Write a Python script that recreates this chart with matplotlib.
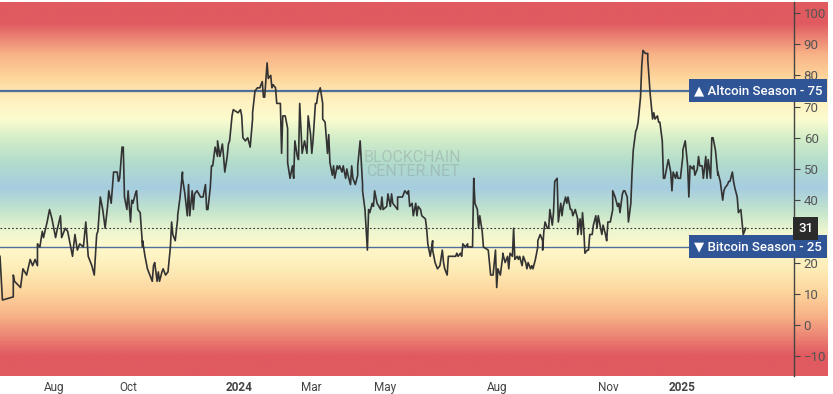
import numpy as np
import matplotlib
matplotlib.use("Agg")
import matplotlib.pyplot as plt
import matplotlib.transforms as mtransforms
from matplotlib.colors import LinearSegmentedColormap

plt.rcParams['font.family'] = ['Roboto', 'DejaVu Sans']

# Altcoin season index, days counted from START
START = np.datetime64('2023-06-17')
END_DAY = 657
day_offset = [
    0, 2, 11, 11, 12, 17, 19, 22, 25, 27, 29, 31, 31, 33, 35, 36, 39, 41, 43, 46,
    47, 50, 51, 54, 56, 60, 62, 64, 66, 69, 71, 73, 76, 78, 80, 81, 83, 85, 87, 89,
    90, 92, 94, 97, 98, 99, 101, 102, 103, 105, 106, 108, 109, 110, 112, 113, 114, 116, 118, 118,
    120, 122, 124, 126, 127, 128, 130, 131, 132, 134, 135, 137, 139, 141, 142, 143, 145, 147, 147, 149,
    151, 151, 153, 155, 156, 157, 159, 160, 161, 163, 166, 168, 170, 171, 172, 174, 175, 176, 178, 180,
    180, 182, 184, 185, 186, 188, 189, 190, 192, 193, 197, 199, 200, 201, 203, 205, 207, 209, 209, 211,
    213, 215, 217, 218, 219, 221, 222, 224, 225, 226, 228, 229, 232, 233, 234, 236, 238, 238, 240, 242,
    243, 244, 246, 247, 248, 250, 251, 252, 254, 255, 257, 258, 259, 261, 262, 263, 265, 267, 267, 269,
    271, 272, 273, 275, 276, 277, 279, 280, 281, 283, 284, 286, 287, 288, 290, 291, 292, 294, 296, 296,
    298, 300, 300, 302, 304, 305, 306, 308, 309, 310, 312, 315, 316, 317, 320, 321, 323, 324, 325, 329,
    329, 333, 334, 335, 337, 338, 339, 341, 342, 344, 345, 346, 348, 349, 352, 353, 354, 356, 358, 358,
    360, 362, 364, 366, 367, 368, 370, 371, 374, 377, 378, 379, 381, 382, 383, 385, 387, 387, 391, 392,
    393, 395, 396, 397, 399, 400, 404, 406, 408, 410, 411, 412, 414, 416, 416, 418, 420, 421, 422, 424,
    425, 426, 428, 429, 430, 432, 433, 435, 436, 437, 439, 440, 441, 443, 445, 445, 447, 449, 449, 450,
    451, 453, 454, 455, 457, 458, 459, 461, 462, 464, 465, 466, 468, 469, 470, 472, 473, 474, 476, 478,
    478, 480, 481, 482, 483, 484, 486, 487, 488, 490, 491, 493, 494, 495, 497, 498, 499, 501, 502, 503,
    505, 507, 507, 509, 511, 512, 513, 515, 516, 517, 519, 520, 522, 523, 524, 526, 527, 528, 530, 531,
    532, 534, 536, 536, 538, 540, 541, 542, 544, 545, 546, 548, 549, 550, 552, 553, 555, 556, 557, 559,
    560, 561, 563, 565, 565, 567, 569, 570, 571, 573, 574, 575, 577, 578, 579, 581, 582, 584, 585, 586,
    588, 589, 590, 592, 594, 594, 596, 598, 599, 600, 602, 603, 604, 606, 607, 608, 610, 611, 613, 614,
    615, 617,
]
alt_index = [
    22, 8, 9, 16, 14, 12, 18, 16, 21, 19, 21, 19, 26, 25, 30, 28, 33, 37, 34, 28,
    30, 35, 28, 31, 30, 22, 29, 24, 26, 25, 33, 22, 19, 16, 29, 30, 41, 37, 31, 38,
    43, 39, 49, 49, 46, 47, 57, 57, 41, 37, 43, 33, 40, 39, 42, 43, 37, 36, 25, 27,
    22, 18, 16, 14, 19, 20, 14, 17, 14, 17, 18, 16, 17, 25, 33, 29, 27, 34, 35, 41,
    49, 47, 42, 35, 45, 35, 43, 37, 42, 43, 41, 41, 45, 37, 37, 44, 51, 51, 57, 54,
    59, 54, 58, 54, 49, 54, 58, 59, 67, 69, 68, 69, 67, 60, 59, 60, 57, 66, 68, 75,
    76, 76, 78, 73, 73, 84, 79, 80, 76, 77, 76, 71, 71, 55, 67, 67, 63, 52, 47, 51,
    47, 59, 54, 53, 71, 55, 57, 59, 55, 67, 61, 55, 59, 71, 71, 74, 76, 71, 66, 65,
    55, 61, 52, 48, 51, 47, 51, 50, 51, 49, 51, 47, 50, 48, 45, 51, 47, 45, 48, 51,
    59, 45, 43, 37, 24, 37, 36, 39, 38, 43, 39, 37, 41, 37, 38, 42, 38, 42, 39, 37,
    41, 41, 42, 43, 42, 43, 38, 39, 35, 39, 35, 38, 37, 35, 34, 31, 26, 22, 27, 24,
    20, 18, 19, 24, 20, 18, 16, 22, 22, 22, 23, 22, 23, 22, 26, 25, 26, 25, 25, 47,
    39, 37, 31, 35, 30, 25, 24, 16, 16, 24, 12, 18, 16, 22, 23, 20, 22, 18, 23, 22,
    31, 21, 22, 21, 22, 19, 22, 20, 18, 20, 18, 19, 18, 21, 25, 27, 29, 27, 24, 30,
    33, 31, 31, 37, 32, 36, 46, 47, 33, 39, 35, 38, 41, 39, 41, 37, 37, 35, 37, 34,
    29, 34, 29, 36, 31, 23, 24, 24, 29, 29, 32, 35, 31, 35, 31, 29, 32, 29, 27, 33,
    33, 37, 43, 41, 38, 39, 36, 42, 43, 43, 41, 33, 39, 49, 56, 62, 63, 65, 73, 83,
    88, 87, 87, 85, 74, 66, 68, 66, 67, 65, 65, 59, 47, 47, 51, 53, 49, 43, 49, 47,
    49, 47, 47, 54, 56, 59, 51, 41, 51, 50, 51, 48, 50, 54, 51, 51, 47, 54, 47, 53,
    47, 60, 60, 56, 48, 49, 46, 40, 43, 44, 45, 46, 46, 49, 46, 44, 41, 36, 37, 33,
    29, 31,
]

altcoin_level = 75
bitcoin_level = 25
current_value = alt_index[-1]

y_ticks = [-10, 0, 10, 20, 30, 40, 50, 60, 70, 80, 90, 100]
x_tick_dates = ['2023-08-01', '2023-10-01', '2024-01-01', '2024-03-01',
                '2024-05-01', '2024-08-01', '2024-11-01', '2025-01-01']
x_tick_labels = ['Aug', 'Oct', '2024', 'Mar', 'May', 'Aug', 'Nov', '2025']

# background colour bands (value, colour)
band_values = [-17, -10, -4, 3, 10, 18, 25, 30, 36, 44, 52, 60, 66, 72, 80, 87, 92, 97, 104]
band_colors = ['#e05a60', '#e05a60', '#ec8474', '#f8b388', '#fdd49c', '#feedb8',
               '#fff8cc', '#eef6d0', '#c6e6cc', '#a6cde0', '#b2dccc', '#d4eec8',
               '#fbfcd0', '#fff1c0', '#fdd49a', '#f8b287', '#ec8674', '#e05a60', '#e05a60']

W, H = 833, 394
fig = plt.figure(figsize=(W / 100, H / 100), dpi=100)
ymin, ymax = -16.35, 103.5

bot = (H - 376) / H
hgt = 374 / H
bg = fig.add_axes([0, bot, 828 / W, hgt], zorder=0)
lo, hi = band_values[0], band_values[-1]
cmap = LinearSegmentedColormap.from_list(
    'bands', [((v - lo) / (hi - lo), c) for v, c in zip(band_values, band_colors)])
grad = np.linspace(lo, hi, 600).reshape(-1, 1)
bg.imshow(grad, extent=[0, 1, lo, hi], origin='lower', aspect='auto', cmap=cmap,
          vmin=lo, vmax=hi)
bg.set_xlim(0, 1)
bg.set_ylim(ymin, ymax)
bg.axis('off')

ax = fig.add_axes([0, bot, 794 / W, hgt], zorder=1)
ax.patch.set_alpha(0)

dates = START + np.array(day_offset).astype('timedelta64[D]')
ax.plot(dates, alt_index, color='#333333', lw=1.2, zorder=4)

ax.axhline(altcoin_level, color='#4e6e9c', lw=1.6, zorder=3)
ax.axhline(bitcoin_level, color='#4e6e9c', lw=1.0, zorder=3)
ax.axhline(current_value, color='#333333', lw=0.8, ls=(0, (1.5, 2)), zorder=3)

ax.set_xlim(START, START + np.timedelta64(END_DAY, 'D'))
ax.set_ylim(ymin, ymax)

ax.yaxis.tick_right()
ax.set_yticks(y_ticks)
ax.tick_params(axis='y', length=4, width=0.8, color='#444444', labelsize=9.5,
               labelcolor='#555555', pad=3)
# the "31" marker box hides the 30 label in the original
for val, lbl in zip(y_ticks, ax.get_yticklabels()):
    if abs(val - current_value) < 5:
        lbl.set_visible(False)
ax.set_xticks([np.datetime64(d) for d in x_tick_dates])
ax.set_xticklabels(x_tick_labels)
ax.tick_params(axis='x', length=0, labelsize=8.5, labelcolor='#444444', pad=3.5)
for lbl in ax.get_xticklabels():
    if lbl.get_text().isdigit():
        lbl.set_fontweight('bold')
for side in ['top', 'left', 'bottom']:
    ax.spines[side].set_visible(False)
ax.spines['right'].set_color('#444444')
ax.spines['right'].set_linewidth(1.0)

trans = mtransforms.blended_transform_factory(ax.transAxes, ax.transData)
label_style = dict(transform=trans, ha='left', va='center', color='white',
                   fontsize=9.5, fontweight='medium', clip_on=False, zorder=6)
ax.text(0.874, altcoin_level, '\u25B2 Altcoin Season - 75',
        bbox=dict(boxstyle='square,pad=0.38', fc='#2f5597', ec='none'), **label_style)
ax.text(0.874, bitcoin_level, '\u25BC Bitcoin Season - 25',
        bbox=dict(boxstyle='square,pad=0.38', fc='#2f5597', ec='none'), **label_style)
ax.text(1.005, current_value, str(current_value),
        bbox=dict(boxstyle='square,pad=0.38', fc='#2b2b2b', ec='none'), **label_style)

# watermark
ax.text(0.52, 51.5, 'BLOCKCHAIN\nCENTER.NET', transform=trans, ha='center',
        va='center', color='#8a9a9a', alpha=0.4, fontsize=11.5, linespacing=0.95,
        zorder=2)

fig.savefig('out.png', dpi=100)
